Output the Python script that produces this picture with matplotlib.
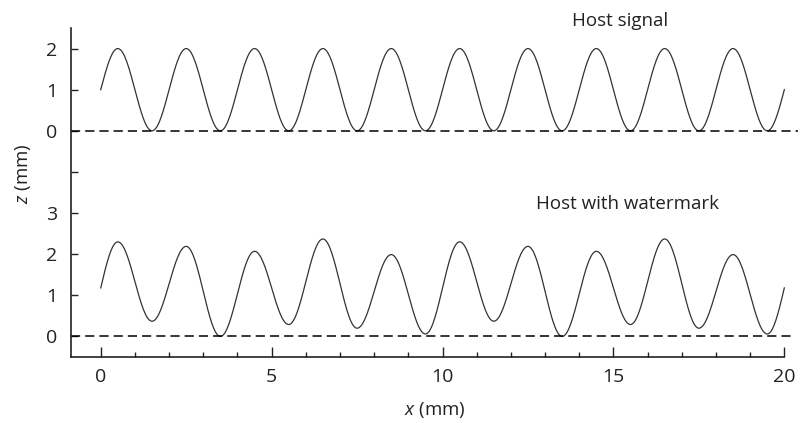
import numpy as np
import matplotlib
matplotlib.use("Agg")
import matplotlib.pyplot as plt
from matplotlib.ticker import MultipleLocator

plt.rcParams['font.family'] = ['Open Sans', 'DejaVu Sans']
plt.rcParams['mathtext.fontset'] = 'custom'
plt.rcParams['mathtext.it'] = 'Open Sans:italic'
plt.rcParams['mathtext.rm'] = 'Open Sans'

# extrema (x in mm, z in mm)
ext_x = [0.5, 1.5, 2.5, 3.5, 4.5, 5.5, 6.5, 7.5, 8.5, 9.5,
         10.5, 11.5, 12.5, 13.5, 14.5, 15.5, 16.5, 17.5, 18.5, 19.5]
host_ext = [2, 0, 2, 0, 2, 0, 2, 0, 2, 0,
            2, 0, 2, 0, 2, 0, 2, 0, 2, 0]
host_ends = [1.0, 1.0]
wm_ext = [2.30, 0.37, 2.19, 0.00, 2.07, 0.29, 2.37, 0.20, 1.99, 0.06,
          2.30, 0.37, 2.19, 0.00, 2.07, 0.29, 2.37, 0.20, 1.99, 0.06]
wm_ends = [1.18, 1.18]
x_start, x_end = 0, 20
offset = 5  # host signal is drawn 5 mm above the watermarked one

y_ticks = [0, 1, 2, 3, 4, 5, 6, 7]
y_ticklabels = ['0', '1', '2', '3', '', '0', '1', '2']


def wave(ends, ext, n=60):
    # smooth sinusoidal segments between the read extrema
    xs, zs = [], []
    kx = [x_start] + ext_x + [x_end]
    kz = [ends[0]] + ext + [ends[1]]
    last = len(kx) - 2
    for i in range(len(kx) - 1):
        t = np.linspace(0, 1, n)
        a, b = kz[i], kz[i + 1]
        if i == 0:
            s = np.sin(np.pi / 2 * t)
        elif i == last:
            s = 1 - np.cos(np.pi / 2 * t)
        else:
            s = (1 - np.cos(np.pi * t)) / 2
        xs.append(kx[i] + (kx[i + 1] - kx[i]) * t)
        zs.append(a + (b - a) * s)
    return np.concatenate(xs), np.concatenate(zs)


fig = plt.figure(figsize=(8.11, 4.23), dpi=100)
ax = fig.add_axes([71 / 811, 1 - 357 / 423, (798 - 71) / 811, (357 - 28) / 423])

hx, hz = wave(host_ends, host_ext)
wx, wz = wave(wm_ends, wm_ext)
ax.plot(hx, hz + offset, color='#333333', lw=0.9)
ax.plot(wx, wz, color='#333333', lw=0.9)

ax.plot([-0.87, 20.4], [offset, offset], color='black', lw=1.1, ls=(0, (6, 3.3)))
ax.plot([-0.87, 20.2], [0, 0], color='black', lw=1.1, ls=(0, (6, 3.3)))

ax.set_xlim(-0.87, 20.4)
ax.set_ylim(-0.5, 7.5)
ax.spines['top'].set_visible(False)
ax.spines['right'].set_visible(False)
ax.spines['bottom'].set_bounds(-0.87, 20)
for sp in ['left', 'bottom']:
    ax.spines[sp].set_linewidth(1.2)
    ax.spines[sp].set_color('#222222')

ax.set_xticks([0, 5, 10, 15, 20])
ax.xaxis.set_minor_locator(MultipleLocator(1))
ax.set_yticks(y_ticks)
ax.set_yticklabels(y_ticklabels)
ax.tick_params(axis='x', which='major', direction='in', length=7, width=1.0,
               labelsize=14, pad=8, colors='#222222')
ax.tick_params(axis='x', which='minor', direction='in', length=3.5, width=1.0,
               colors='#222222')
ax.tick_params(axis='y', direction='in', length=5, width=1.0,
               labelsize=14, pad=14, colors='#222222')
for lab in ax.get_yticklabels():
    lab.set_horizontalalignment('center')

ax.text(15.2, 7.68, 'Host signal', ha='center', va='center', fontsize=13.5,
        color='#222222', clip_on=False)
ax.text(15.4, 3.22, 'Host with watermark', ha='center', va='center',
        fontsize=13.5, color='#222222')

ax.set_xlabel('$x$ (mm)', fontsize=13.5, color='#222222')
ax.set_ylabel('$z$ (mm)', fontsize=13.5, color='#222222')
ax.xaxis.set_label_coords(0.5, -0.13)
ax.yaxis.set_label_coords(-0.052, 0.556)

fig.savefig('out.png', dpi=100)
